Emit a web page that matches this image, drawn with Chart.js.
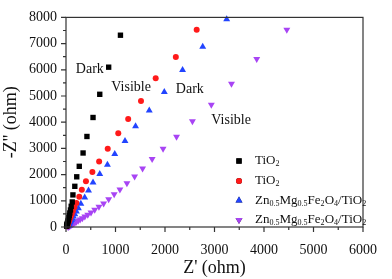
<!DOCTYPE html>
<html>
<head>
<meta charset="utf-8">
<script src="https://cdn.jsdelivr.net/npm/chart.js@4"></script>
<style>
  html, body { margin: 0; padding: 0; background: #fff; }
  #wrap { width: 392px; height: 279px; }
</style>
</head>
<body>
<div id="wrap"><canvas id="nyquist"></canvas></div>
<script>
// Z' (ohm), -Z'' (ohm)
const tio2DarkX = [1100, 862, 682, 546, 423, 345, 268, 217, 178, 140, 126, 105, 90, 77, 66, 57, 49, 42, 36, 31, 27, 23, 20, 17, 15, 13];
const tio2DarkY = [7320, 6100, 5065, 4180, 3455, 2825, 2316, 1916, 1553, 1225, 956, 790, 650, 535, 440, 360, 295, 240, 195, 158, 127, 101, 80, 62, 47, 35];

const tio2VisX = [2640, 2219, 1812, 1515, 1256, 1056, 843, 669, 533, 403, 320, 268, 209, 170, 140, 116, 96, 80, 67, 56, 47, 40, 34, 29, 25, 22, 19];
const tio2VisY = [7527, 6484, 5673, 4811, 4120, 3575, 2982, 2497, 2098, 1745, 1418, 1153, 920, 750, 610, 495, 400, 322, 258, 205, 162, 127, 98, 74, 55, 40, 28];

const znDarkX = [3246, 2762, 2355, 1986, 1682, 1405, 1192, 985, 837, 682, 546, 455, 378, 300, 250, 210, 178, 150, 128, 110, 95, 82, 71, 62, 54, 47, 41, 36, 32, 28];
const znDarkY = [7927, 6884, 5989, 5152, 4448, 3843, 3284, 2789, 2375, 2025, 1698, 1393, 1127, 884, 720, 590, 485, 398, 326, 267, 218, 178, 145, 117, 94, 75, 59, 46, 35, 26];

const znVisX = [4461, 3853, 3343, 2936, 2554, 2233, 1961, 1740, 1547, 1386, 1231, 1089, 973, 862, 760, 665, 580, 505, 440, 380, 330, 285, 245, 210, 180, 155, 132, 113, 97, 83, 71, 61, 53, 46, 40];
const znVisY = [7527, 6411, 5465, 4665, 4036, 3444, 2982, 2593, 2229, 1927, 1673, 1429, 1247, 1055, 900, 770, 655, 555, 470, 398, 335, 282, 236, 197, 163, 134, 109, 88, 70, 55, 42, 31, 22, 14, 8];

const seriesLabels = ['TiO_2', 'TiO_2', 'Zn_{0.5}Mg_{0.5}Fe_2O_4/TiO_2', 'Zn_{0.5}Mg_{0.5}Fe_2O_4/TiO_2'];
const xTicks = [0, 1000, 2000, 3000, 4000, 5000, 6000];
const yTicks = [0, 1000, 2000, 3000, 4000, 5000, 6000, 7000, 8000];

const noteTexts = ['Dark', 'Visible', 'Dark', 'Visible'];
const noteX = [198, 915, 2219, 2936];
const noteY = [5890, 5200, 5100, 3920];

const SERIF = '"Liberation Serif", "DejaVu Serif", serif';

function pairs(xs, ys) {
  return xs.map((x, i) => ({ x: x, y: ys[i] }));
}

// split 'Zn_{0.5}Mg' into normal / subscript runs
function parseSub(str) {
  const out = [];
  const re = /_\{([^}]*)\}|_(.)|([^_]+)/g;
  let m;
  while ((m = re.exec(str))) {
    if (m[1] !== undefined) out.push([m[1], true]);
    else if (m[2] !== undefined) out.push([m[2], true]);
    else out.push([m[3], false]);
  }
  return out;
}

function drawSubText(ctx, str, x, y, size) {
  let cx = x;
  parseSub(str).forEach(([t, sub]) => {
    ctx.font = (sub ? size * 0.62 : size) + 'px ' + SERIF;
    ctx.fillText(t, cx, sub ? y + size * 0.25 : y);
    cx += ctx.measureText(t).width;
  });
}

const styles = [
  { color: '#000000', shape: 'rect', r: 3.8, rot: 0 },
  { color: '#ff1a1a', shape: 'circle', r: 3.0, rot: 0 },
  { color: '#2244ff', shape: 'triangle', r: 4.0, rot: 0 },
  { color: '#a844f4', shape: 'triangle', r: 4.0, rot: 180 }
];

const allData = [
  pairs(tio2DarkX, tio2DarkY),
  pairs(tio2VisX, tio2VisY),
  pairs(znDarkX, znDarkY),
  pairs(znVisX, znVisY)
];

const frameAndExtras = {
  id: 'frameAndExtras',
  afterDraw(chart) {
    const ctx = chart.ctx;
    const a = chart.chartArea;
    const xs = chart.scales.x, ys = chart.scales.y;
    ctx.save();
    // box
    ctx.strokeStyle = '#333';
    ctx.lineWidth = 1.2;
    ctx.strokeRect(a.left, a.top, a.right - a.left, a.bottom - a.top);
    // outward ticks, major + minor
    ctx.beginPath();
    for (let v = 0; v <= 6000; v += 500) {
      const px = xs.getPixelForValue(v);
      const len = v % 1000 === 0 ? 5 : 3;
      ctx.moveTo(px, a.bottom);
      ctx.lineTo(px, a.bottom + len);
    }
    for (let v = 0; v <= 8000; v += 500) {
      const py = ys.getPixelForValue(v);
      const len = v % 1000 === 0 ? 5 : 3;
      ctx.moveTo(a.left, py);
      ctx.lineTo(a.left - len, py);
    }
    ctx.stroke();

    // annotations
    ctx.fillStyle = '#111';
    ctx.textBaseline = 'alphabetic';
    ctx.textAlign = 'left';
    ctx.font = '14px ' + SERIF;
    noteTexts.forEach((t, i) => {
      ctx.fillText(t, xs.getPixelForValue(noteX[i]), ys.getPixelForValue(noteY[i]));
    });

    // legend
    const lx = 239, ltx = 255;
    const rows = [161, 181, 200.5, 220];
    seriesLabels.forEach((lab, i) => {
      const st = styles[i];
      Chart.helpers.drawPoint(ctx, {
        pointStyle: st.shape, radius: st.r, rotation: st.rot, borderWidth: 0
      }, lx, rows[i]);
      ctx.fillStyle = st.color;
      ctx.fill();
      ctx.fillStyle = '#111';
      ctx.textBaseline = 'middle';
      drawSubText(ctx, lab, ltx, rows[i], 13);
    });
    ctx.restore();
  }
};

const ctx = document.getElementById('nyquist');

new Chart(ctx, {
  type: 'scatter',
  data: {
    datasets: allData.map((d, i) => ({
      label: seriesLabels[i],
      data: d,
      pointStyle: styles[i].shape,
      pointRadius: styles[i].r,
      pointRotation: styles[i].rot,
      pointBackgroundColor: styles[i].color,
      pointBorderWidth: 0,
      borderColor: styles[i].color,
      clip: false
    }))
  },
  options: {
    responsive: true,
    maintainAspectRatio: false,
    animation: false,
    layout: { padding: { top: 7, right: 16, left: 0, bottom: 0 } },
    plugins: {
      legend: { display: false },
      tooltip: { enabled: false }
    },
    scales: {
      x: {
        type: 'linear',
        min: 0, max: 6000,
        afterBuildTicks: s => { s.ticks = xTicks.map(v => ({ value: v })); },
        afterFit: s => { s.height = 52; },
        grid: { display: false, drawTicks: false },
        border: { display: false },
        ticks: {
          color: '#111', padding: 15, font: { family: SERIF, size: 14 },
          callback: v => String(v)
        },
        title: {
          display: true, text: "Z' (ohm)", color: '#111',
          font: { family: SERIF, size: 18 }, padding: { top: 0, bottom: 0 }
        }
      },
      y: {
        type: 'linear',
        min: 0, max: 8000,
        afterBuildTicks: s => { s.ticks = yTicks.map(v => ({ value: v })); },
        afterFit: s => { s.width = 66; },
        grid: { display: false, drawTicks: false },
        border: { display: false },
        ticks: {
          color: '#111', padding: 9, font: { family: SERIF, size: 14 },
          callback: v => String(v)
        },
        title: {
          display: true, text: "-Z'' (ohm)", color: '#111',
          font: { family: SERIF, size: 18 }, padding: { top: 0, bottom: 4 }
        }
      }
    }
  },
  plugins: [frameAndExtras]
});
</script>
</body>
</html>
